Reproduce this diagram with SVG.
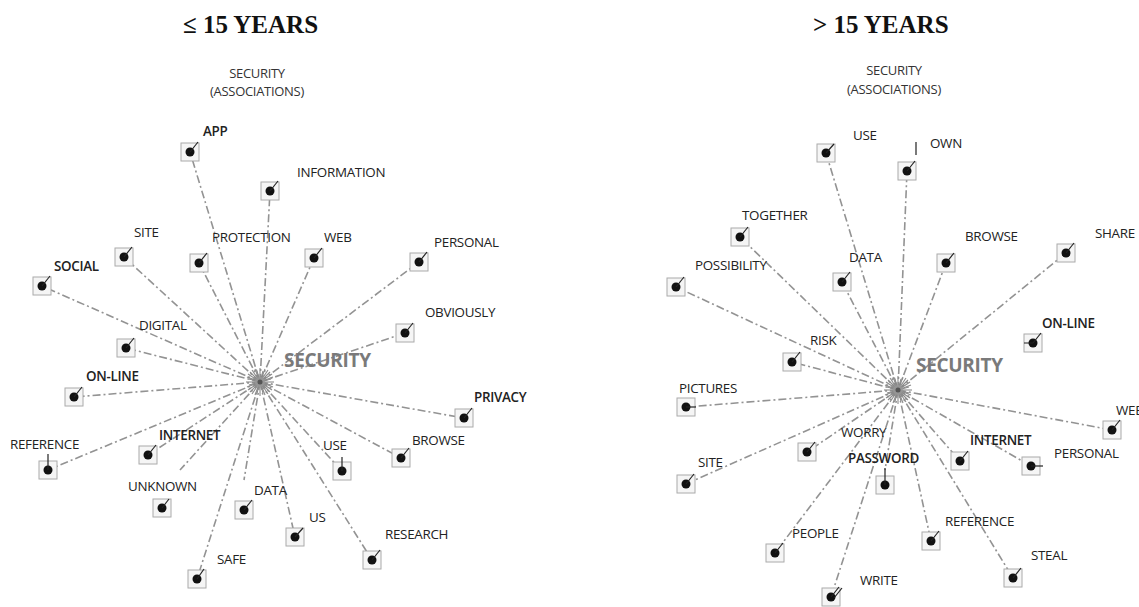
<svg xmlns="http://www.w3.org/2000/svg" width="1139" height="607" viewBox="0 0 1139 607">
  <style>
    .title { font-family: "Liberation Serif", serif; font-weight: bold; font-size: 25px; fill: #111; }
    .sub { font-family: "Open Sans", "Liberation Sans", sans-serif; font-size: 13px; fill: #333; text-anchor: middle; letter-spacing: -0.3px; }
    .lbl { font-family: "Open Sans", "Liberation Sans", sans-serif; font-size: 13.4px; fill: #222; letter-spacing: -0.3px; }
    .b { font-weight: 600; }
    .hub-lbl { font-family: "Open Sans", "Liberation Sans", sans-serif; font-weight: bold; font-size: 19px; fill: #7a7a7a; letter-spacing: -0.3px; }
    .box { fill: #f5f5f5; stroke: #aaa; stroke-width: 1; }
    .dot { fill: #111; }
    .tick { fill: none; stroke: #222; stroke-width: 1.2; }
    .link { stroke: #939393; stroke-width: 1.6; stroke-dasharray: 8 3 2 3; fill: none; }
    .ray { stroke: #8a8a8a; stroke-width: 1.1; }
  </style>
  <defs>
    <!-- starburst drawn at every hub -->
    <g id="burst">
      <g class="ray">
        <line x1="0" y1="-14" x2="0" y2="14"/>
        <line x1="-14" y1="0" x2="14" y2="0"/>
        <line x1="-10" y1="-10" x2="10" y2="10"/>
        <line x1="-10" y1="10" x2="10" y2="-10"/>
        <line x1="-5" y1="-13" x2="5" y2="13"/>
        <line x1="5" y1="-13" x2="-5" y2="13"/>
        <line x1="-13" y1="-5" x2="13" y2="5"/>
        <line x1="-13" y1="5" x2="13" y2="-5"/>
        <line x1="-3" y1="-11" x2="3" y2="11"/>
        <line x1="3" y1="-11" x2="-3" y2="11"/>
        <line x1="-11" y1="-3" x2="11" y2="3"/>
        <line x1="-11" y1="3" x2="11" y2="-3"/>
        <line x1="-8" y1="-12" x2="8" y2="12"/>
        <line x1="8" y1="-12" x2="-8" y2="12"/>
        <line x1="-12" y1="-8" x2="12" y2="8"/>
        <line x1="-12" y1="8" x2="12" y2="-8"/>
      </g>
      <circle r="5" fill="#9a9a9a" opacity="0.7"/>
      <circle r="2.5" fill="#555"/>
    </g>
  </defs>

  <rect width="1139" height="607" fill="#fff"/>

  <!-- headings -->
  <text class="title" x="183" y="33">≤ 15 YEARS</text>
  <text class="title" x="813" y="33">&gt; 15 YEARS</text>
  <text class="sub" x="257" y="78">SECURITY</text>
  <text class="sub" x="257" y="96">(ASSOCIATIONS)</text>
  <text class="sub" x="894" y="75">SECURITY</text>
  <text class="sub" x="894" y="94">(ASSOCIATIONS)</text>

  <!-- connectors, left map (hub 260,382) -->
  <g id="links-left">
    <line class="link" x1="260" y1="382" x2="190" y2="152"/>
    <line class="link" x1="260" y1="382" x2="270" y2="191"/>
    <line class="link" x1="260" y1="382" x2="124" y2="257"/>
    <line class="link" x1="260" y1="382" x2="199" y2="263"/>
    <line class="link" x1="260" y1="382" x2="314" y2="258"/>
    <line class="link" x1="260" y1="382" x2="419" y2="262"/>
    <line class="link" x1="260" y1="382" x2="42" y2="286"/>
    <line class="link" x1="260" y1="382" x2="405" y2="333"/>
    <line class="link" x1="260" y1="382" x2="126" y2="348"/>
    <line class="link" x1="260" y1="382" x2="74" y2="397"/>
    <line class="link" x1="260" y1="382" x2="464" y2="418"/>
    <line class="link" x1="260" y1="382" x2="48" y2="470"/>
    <line class="link" x1="260" y1="382" x2="148" y2="455"/>
    <line class="link" x1="260" y1="382" x2="342" y2="471"/>
    <line class="link" x1="260" y1="382" x2="401" y2="458"/>
    <line class="link" x1="260" y1="382" x2="180" y2="470"/>
    <line class="link" x1="260" y1="382" x2="244" y2="480"/>
    <line class="link" x1="260" y1="382" x2="295" y2="537"/>
    <line class="link" x1="260" y1="382" x2="372" y2="560"/>
    <line class="link" x1="260" y1="382" x2="197" y2="579"/>
  </g>

  <!-- connectors, right map (hub 898,390) -->
  <g id="links-right">
    <line class="link" x1="898" y1="390" x2="826" y2="153"/>
    <line class="link" x1="898" y1="390" x2="907" y2="171"/>
    <line class="link" x1="898" y1="390" x2="740" y2="237"/>
    <line class="link" x1="898" y1="390" x2="842" y2="282"/>
    <line class="link" x1="898" y1="390" x2="946" y2="263"/>
    <line class="link" x1="898" y1="390" x2="1066" y2="253"/>
    <line class="link" x1="898" y1="390" x2="676" y2="287"/>
    <line class="link" x1="898" y1="390" x2="792" y2="362"/>
    <line class="link" x1="898" y1="390" x2="686" y2="407"/>
    <line class="link" x1="898" y1="390" x2="1112" y2="430"/>
    <line class="link" x1="898" y1="390" x2="807" y2="452"/>
    <line class="link" x1="898" y1="390" x2="885" y2="470"/>
    <line class="link" x1="898" y1="390" x2="960" y2="461"/>
    <line class="link" x1="898" y1="390" x2="1031" y2="466"/>
    <line class="link" x1="898" y1="390" x2="686" y2="484"/>
    <line class="link" x1="898" y1="390" x2="775" y2="553"/>
    <line class="link" x1="898" y1="390" x2="931" y2="541"/>
    <line class="link" x1="898" y1="390" x2="1013" y2="578"/>
    <line class="link" x1="898" y1="390" x2="831" y2="597"/>
  </g>

  <!-- hubs -->
  <g id="hub-left">
    <use href="#burst" x="260" y="382"/>
    <text class="hub-lbl" x="284" y="367">SECURITY</text>
  </g>
  <g id="hub-right">
    <use href="#burst" x="898" y="390"/>
    <text class="hub-lbl" x="916" y="372">SECURITY</text>
  </g>

  <!-- left map nodes -->
  <g id="l-app"><rect class="box" x="181" y="143" width="18" height="18"/><circle class="dot" cx="190" cy="152" r="4.5"/><path class="tick" d="M190 152l8-10"/><text class="lbl b" x="203" y="136">APP</text></g>
  <g id="l-information"><rect class="box" x="261" y="182" width="18" height="18"/><circle class="dot" cx="270" cy="191" r="4.5"/><path class="tick" d="M270 191l8-10"/><text class="lbl" x="297" y="177">INFORMATION</text></g>
  <g id="l-site"><rect class="box" x="115" y="248" width="18" height="18"/><circle class="dot" cx="124" cy="257" r="4.5"/><path class="tick" d="M124 257l8-10"/><text class="lbl" x="134" y="237">SITE</text></g>
  <g id="l-protection"><rect class="box" x="190" y="254" width="18" height="18"/><circle class="dot" cx="199" cy="263" r="4.5"/><path class="tick" d="M199 263l8-10"/><text class="lbl" x="212" y="242">PROTECTION</text></g>
  <g id="l-web"><rect class="box" x="305" y="249" width="18" height="18"/><circle class="dot" cx="314" cy="258" r="4.5"/><path class="tick" d="M314 258l8-10"/><text class="lbl" x="324" y="242">WEB</text></g>
  <g id="l-personal"><rect class="box" x="410" y="253" width="18" height="18"/><circle class="dot" cx="419" cy="262" r="4.5"/><path class="tick" d="M419 262l8-10"/><text class="lbl" x="434" y="247">PERSONAL</text></g>
  <g id="l-social"><rect class="box" x="33" y="277" width="18" height="18"/><circle class="dot" cx="42" cy="286" r="4.5"/><path class="tick" d="M42 286l8-10"/><text class="lbl b" x="54" y="271">SOCIAL</text></g>
  <g id="l-obviously"><rect class="box" x="396" y="324" width="18" height="18"/><circle class="dot" cx="405" cy="333" r="4.5"/><path class="tick" d="M405 333l8-10"/><text class="lbl" x="425" y="317">OBVIOUSLY</text></g>
  <g id="l-digital"><rect class="box" x="117" y="339" width="18" height="18"/><circle class="dot" cx="126" cy="348" r="4.5"/><path class="tick" d="M126 348l8-10"/><text class="lbl" x="139" y="330">DIGITAL</text></g>
  <g id="l-online"><rect class="box" x="65" y="388" width="18" height="18"/><circle class="dot" cx="74" cy="397" r="4.5"/><path class="tick" d="M74 397l8-10"/><text class="lbl b" x="86" y="381">ON-LINE</text></g>
  <g id="l-privacy"><rect class="box" x="455" y="409" width="18" height="18"/><circle class="dot" cx="464" cy="418" r="4.5"/><path class="tick" d="M464 418l8-10"/><text class="lbl b" x="474" y="402">PRIVACY</text></g>
  <g id="l-reference"><rect class="box" x="39" y="461" width="18" height="18"/><circle class="dot" cx="48" cy="470" r="4.5"/><path class="tick" d="M48 470v-16"/><text class="lbl" x="10" y="449">REFERENCE</text></g>
  <g id="l-internet"><rect class="box" x="139" y="446" width="18" height="18"/><circle class="dot" cx="148" cy="455" r="4.5"/><path class="tick" d="M148 455l8-10"/><text class="lbl b" x="159" y="440">INTERNET</text></g>
  <g id="l-use"><rect class="box" x="333" y="462" width="18" height="18"/><circle class="dot" cx="342" cy="471" r="4.5"/><path class="tick" d="M342 471v-14"/><text class="lbl" x="323" y="450">USE</text></g>
  <g id="l-browse"><rect class="box" x="392" y="449" width="18" height="18"/><circle class="dot" cx="401" cy="458" r="4.5"/><path class="tick" d="M401 458l8-10"/><text class="lbl" x="412" y="445">BROWSE</text></g>
  <g id="l-unknown"><rect class="box" x="153" y="499" width="18" height="18"/><circle class="dot" cx="162" cy="508" r="4.5"/><path class="tick" d="M162 508l7-9"/><text class="lbl" x="128" y="491">UNKNOWN</text></g>
  <g id="l-data"><rect class="box" x="235" y="501" width="18" height="18"/><circle class="dot" cx="244" cy="510" r="4.5"/><path class="tick" d="M244 510l8-10"/><text class="lbl" x="254" y="495">DATA</text></g>
  <g id="l-us"><rect class="box" x="286" y="528" width="18" height="18"/><circle class="dot" cx="295" cy="537" r="4.5"/><path class="tick" d="M295 537l8-9"/><text class="lbl" x="309" y="522">US</text></g>
  <g id="l-research"><rect class="box" x="363" y="551" width="18" height="18"/><circle class="dot" cx="372" cy="560" r="4.5"/><path class="tick" d="M372 560l8-10"/><text class="lbl" x="385" y="539">RESEARCH</text></g>
  <g id="l-safe"><rect class="box" x="188" y="570" width="18" height="18"/><circle class="dot" cx="197" cy="579" r="4.5"/><path class="tick" d="M197 579l7-10"/><text class="lbl" x="217" y="564">SAFE</text></g>

  <!-- right map nodes -->
  <g id="r-use"><rect class="box" x="817" y="144" width="18" height="18"/><circle class="dot" cx="826" cy="153" r="4.5"/><path class="tick" d="M826 153l8-9"/><text class="lbl" x="853" y="140">USE</text></g>
  <g id="r-own"><rect class="box" x="898" y="162" width="18" height="18"/><circle class="dot" cx="907" cy="171" r="4.5"/><path class="tick" d="M907 171l8-10M916 142v13"/><text class="lbl" x="930" y="148">OWN</text></g>
  <g id="r-together"><rect class="box" x="731" y="228" width="18" height="18"/><circle class="dot" cx="740" cy="237" r="4.5"/><path class="tick" d="M740 237l8-10"/><text class="lbl" x="742" y="220">TOGETHER</text></g>
  <g id="r-data"><rect class="box" x="833" y="273" width="18" height="18"/><circle class="dot" cx="842" cy="282" r="4.5"/><path class="tick" d="M842 282l8-10"/><text class="lbl" x="849" y="262">DATA</text></g>
  <g id="r-browse"><rect class="box" x="937" y="254" width="18" height="18"/><circle class="dot" cx="946" cy="263" r="4.5"/><path class="tick" d="M946 263l8-10"/><text class="lbl" x="965" y="241">BROWSE</text></g>
  <g id="r-share"><rect class="box" x="1057" y="244" width="18" height="18"/><circle class="dot" cx="1066" cy="253" r="4.5"/><path class="tick" d="M1066 253l8-10"/><text class="lbl" x="1095" y="238">SHARE</text></g>
  <g id="r-possibility"><rect class="box" x="667" y="278" width="18" height="18"/><circle class="dot" cx="676" cy="287" r="4.5"/><path class="tick" d="M676 287l8-10"/><text class="lbl" x="695" y="270">POSSIBILITY</text></g>
  <g id="r-online"><rect class="box" x="1024" y="334" width="18" height="18"/><circle class="dot" cx="1033" cy="343" r="4.5"/><path class="tick" d="M1033 343l8-10M1033 343h-9"/><text class="lbl b" x="1042" y="328">ON-LINE</text></g>
  <g id="r-risk"><rect class="box" x="783" y="353" width="18" height="18"/><circle class="dot" cx="792" cy="362" r="4.5"/><path class="tick" d="M792 362l8-10"/><text class="lbl" x="810" y="345">RISK</text></g>
  <g id="r-pictures"><rect class="box" x="677" y="398" width="18" height="18"/><circle class="dot" cx="686" cy="407" r="4.5"/><path class="tick" d="M686 407h10"/><text class="lbl" x="679" y="393">PICTURES</text></g>
  <g id="r-web"><rect class="box" x="1103" y="421" width="18" height="18"/><circle class="dot" cx="1112" cy="430" r="4.5"/><path class="tick" d="M1112 430l8-10"/><text class="lbl" x="1116" y="415">WEB</text></g>
  <g id="r-worry"><rect class="box" x="798" y="443" width="18" height="18"/><circle class="dot" cx="807" cy="452" r="4.5"/><path class="tick" d="M807 452l8-10"/><text class="lbl" x="841" y="437">WORRY</text></g>
  <g id="r-password"><rect class="box" x="876" y="476" width="18" height="18"/><circle class="dot" cx="885" cy="485" r="4.5"/><path class="tick" d="M885 485v-17"/><text class="lbl b" x="848" y="463">PASSWORD</text></g>
  <g id="r-internet"><rect class="box" x="951" y="452" width="18" height="18"/><circle class="dot" cx="960" cy="461" r="4.5"/><path class="tick" d="M960 461l8-10"/><text class="lbl b" x="970" y="445">INTERNET</text></g>
  <g id="r-personal"><rect class="box" x="1022" y="457" width="18" height="18"/><circle class="dot" cx="1031" cy="466" r="4.5"/><path class="tick" d="M1031 466h12"/><text class="lbl" x="1054" y="458">PERSONAL</text></g>
  <g id="r-site"><rect class="box" x="677" y="475" width="18" height="18"/><circle class="dot" cx="686" cy="484" r="4.5"/><path class="tick" d="M686 484l8-10"/><text class="lbl" x="698" y="467">SITE</text></g>
  <g id="r-people"><rect class="box" x="766" y="544" width="18" height="18"/><circle class="dot" cx="775" cy="553" r="4.5"/><path class="tick" d="M775 553l8-10"/><text class="lbl" x="792" y="538">PEOPLE</text></g>
  <g id="r-reference"><rect class="box" x="922" y="532" width="18" height="18"/><circle class="dot" cx="931" cy="541" r="4.5"/><path class="tick" d="M931 541l8-10"/><text class="lbl" x="945" y="526">REFERENCE</text></g>
  <g id="r-steal"><rect class="box" x="1004" y="569" width="18" height="18"/><circle class="dot" cx="1013" cy="578" r="4.5"/><path class="tick" d="M1013 578l8-10"/><text class="lbl" x="1031" y="560">STEAL</text></g>
  <g id="r-write"><rect class="box" x="822" y="588" width="18" height="18"/><circle class="dot" cx="831" cy="597" r="4.5"/><path class="tick" d="M831 597l8-10M834 598l8-10"/><text class="lbl" x="860" y="585">WRITE</text></g>
</svg>
